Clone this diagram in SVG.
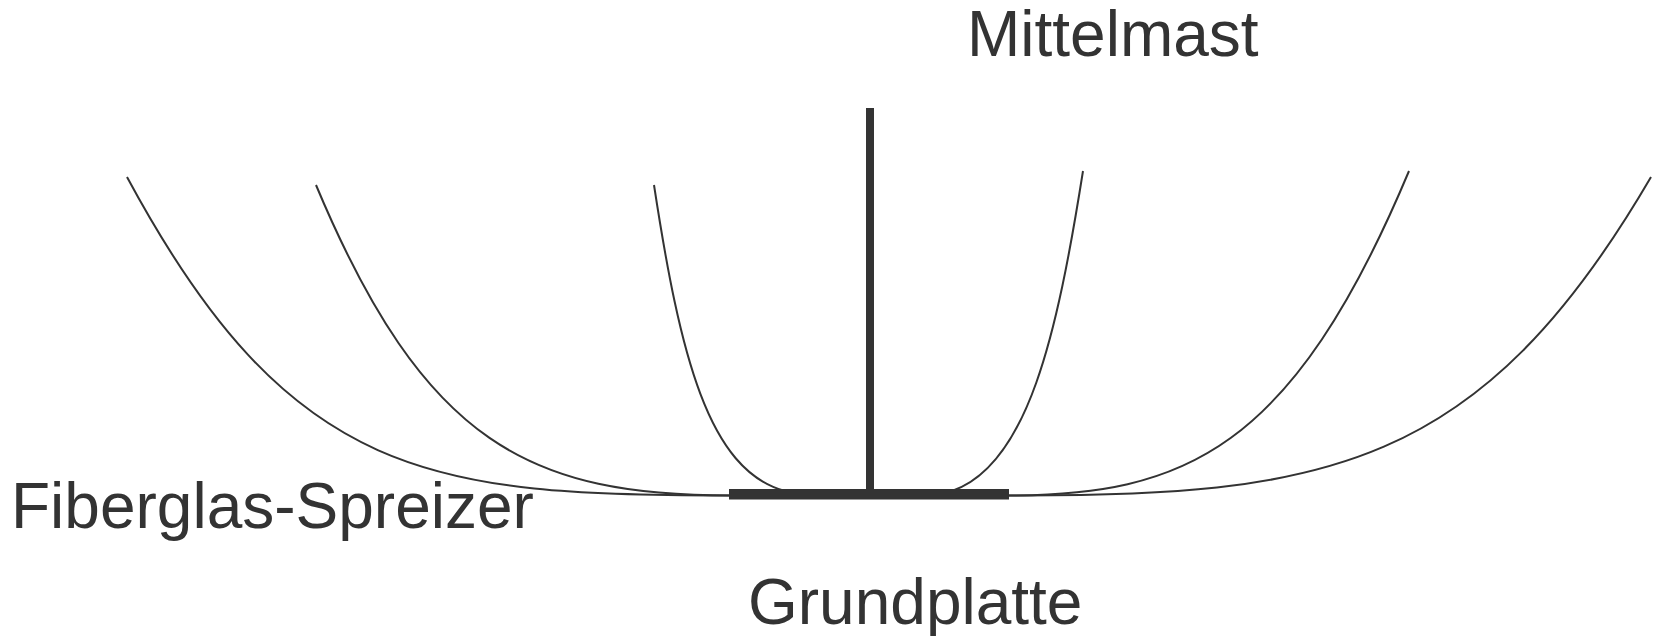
<svg xmlns="http://www.w3.org/2000/svg" width="1663" height="636" viewBox="0 0 1663 636">
<style>
text{font-family:"Liberation Sans",Arial,sans-serif;font-size:64px;fill:#333}
.c{fill:none;stroke:#333;stroke-width:2}
.b{fill:#333}
</style>
<rect width="1663" height="636" fill="#fff"/>
<g id="connectors">
<path class="c" d="M127 177C290 480 430 496 735 495.5"/>
<path class="c" d="M316 185C425 445 530 496 735 495.5"/>
<path class="c" d="M654 185C680 355 708 470 785 491"/>
<path class="c" d="M1083 171C1057 335 1028 465 952 491"/>
<path class="c" d="M1409 171C1292 450 1185 496 1005 495.5"/>
<path class="c" d="M1651 177C1480 470 1325 497 1005 495.5"/>
</g>
<g id="mittelmast"><rect class="b" x="866" y="108" width="8" height="385"/><text x="967" y="56">Mittelmast</text></g>
<g id="grundplatte"><rect class="b" x="729" y="489" width="280" height="10.5"/><text x="748" y="624">Grundplatte</text></g>
<g id="spreizer"><text x="11" y="528">Fiberglas-Spreizer</text></g>
</svg>
